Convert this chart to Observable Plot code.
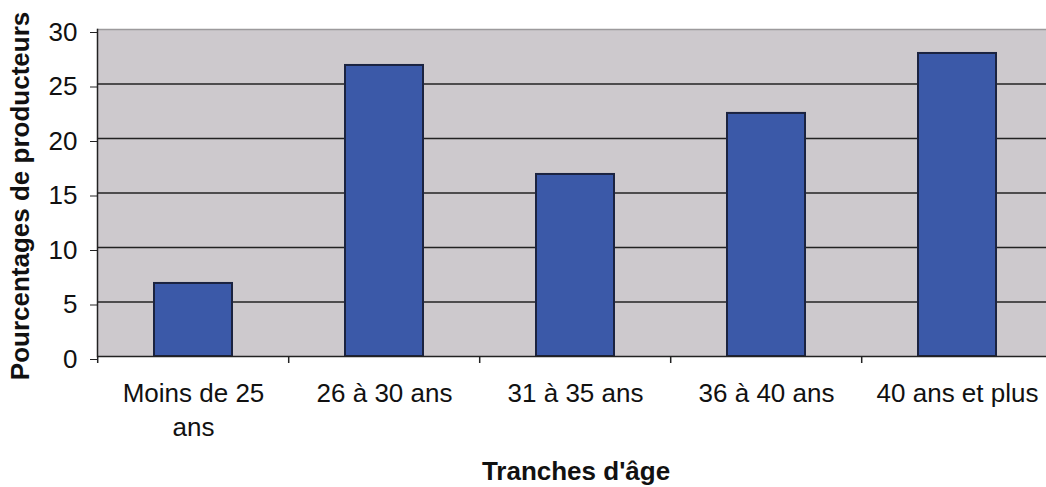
<!DOCTYPE html>
<html>
<head>
<meta charset="utf-8">
<script src="https://cdn.jsdelivr.net/npm/d3@7"></script>
<script src="https://cdn.jsdelivr.net/npm/@observablehq/plot@0.6"></script>
<style>
  html, body { margin: 0; padding: 0; background: #fff; }
</style>
</head>
<body>
<div id="chart"></div>
<script>
const categories = ["Moins de 25 ans", "26 à 30 ans", "31 à 35 ans", "36 à 40 ans", "40 ans et plus"];
const tickLabels = ["Moins de 25\nans", "26 à 30 ans", "31 à 35 ans", "36 à 40 ans", "40 ans et plus"];
const values = [6.7, 26.7, 16.7, 22.3, 27.8];
const yTicks = [0, 5, 10, 15, 20, 25, 30];
const yTitle = "Pourcentages de producteurs";
const xTitle = "Tranches d'âge";

const data = categories.map((c, i) => ({cat: c, value: values[i]}));

const xRange = [96, 1054];
const step = (xRange[1] - xRange[0]) / categories.length;

const chart = Plot.plot({
  width: 1046,
  height: 487,
  marginLeft: 97,
  marginRight: 0,
  marginTop: 29,
  marginBottom: 131,
  style: {fontFamily: "'Liberation Sans', Arial, sans-serif", background: "#fff", color: "#111"},
  x: {domain: categories, range: xRange, paddingInner: 0.59, paddingOuter: 0.295, align: 0.5},
  y: {domain: [0, 30]},
  marks: [
    Plot.frame({fill: "#cdc9cd", stroke: null}),
    Plot.ruleY(yTicks.filter(d => d > 0 && d < 30), {stroke: "#222", strokeWidth: 1.5}),
    Plot.ruleY([30], {stroke: "#9c9a9c", strokeWidth: 1.5}),
    Plot.barY(data, {x: "cat", y: "value", fill: "#3b59a8", stroke: "#1b2340", strokeWidth: 2}),
    Plot.ruleY([0], {stroke: "#222", strokeWidth: 1.5}),
    Plot.frame({anchor: "left", stroke: "#222", strokeWidth: 1.5}),
    Plot.axisY(yTicks, {tickSize: 7, tickPadding: 13, fontSize: 26, dy: 3, label: null, stroke: "#222"}),
    Plot.axisX({tickSize: 7, tickFormat: () => "", dx: -step / 2, label: null, stroke: "#222", strokeWidth: 1.5}),
    Plot.axisX({tickSize: 0, tickPadding: 21, fontSize: 26, lineHeight: 1.31, label: null,
      tickFormat: (d) => tickLabels[categories.indexOf(d)]}),
    Plot.text([xTitle], {frameAnchor: "bottom", lineAnchor: "top", dy: 105, dx: 4,
      fontSize: 26, fontWeight: "bold", fill: "#111"}),
    Plot.text([yTitle], {frameAnchor: "left", textAnchor: "middle", rotate: -90, dx: -77, dy: 3,
      fontSize: 26, fontWeight: "bold", fill: "#111"})
  ]
});

document.getElementById("chart").appendChild(chart);
</script>
</body>
</html>
